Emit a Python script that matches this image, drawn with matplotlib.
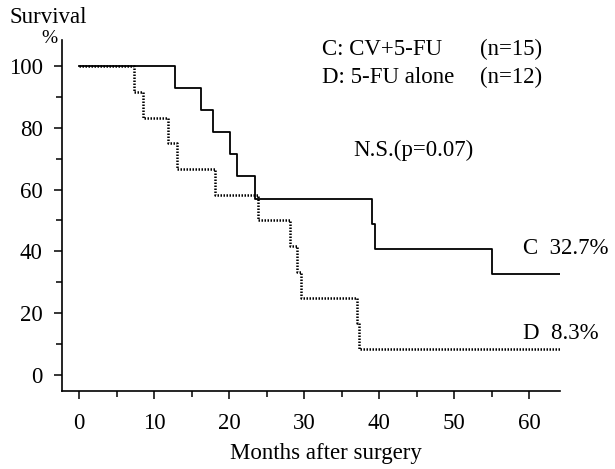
import matplotlib
matplotlib.use('Agg')
import matplotlib.pyplot as plt
from matplotlib.ticker import MultipleLocator

# Kaplan-Meier steps (months, survival %)
c_months = [0, 12.8, 16.3, 17.9, 20.1, 21.0, 23.5, 39.0, 39.4, 55.0, 64.1]
c_survival = [100, 92.9, 85.7, 78.6, 71.4, 64.3, 57.1, 49.0, 40.8, 32.7, 32.7]

d_months = [0, 7.3, 8.5, 11.9, 13.0, 18.1, 23.8, 28.1, 29.1, 29.6, 37.0, 37.3, 64.1]
d_survival = [100, 91.7, 83.3, 75.0, 66.7, 58.3, 50.0, 41.7, 33.3, 25.0, 16.7, 8.3, 8.3]

legend_rows = ['C: CV+5-FU', 'D: 5-FU alone']
legend_counts = ['(n=15)', '(n=12)']
end_labels = ['C  32.7%', 'D  8.3%']
p_text = 'N.S.(p=0.07)'


def main():
    plt.rcParams['font.family'] = ['Liberation Serif', 'DejaVu Serif']
    plt.rcParams['font.size'] = 16.5

    fig = plt.figure(figsize=(6.15, 4.69), dpi=100)
    ax = fig.add_axes([0.1008, 0.1663, 0.8098, 0.7484])

    ax.step(c_months, c_survival, where='post', color='black', linewidth=1.3)
    ax.step(d_months, d_survival, where='post', color='black', linewidth=1.8,
            linestyle=(0, (0.6, 0.6)))

    ax.set_xlim(-2.27, 64.1)
    ax.set_ylim(-5.2, 108.4)
    ax.xaxis.set_minor_locator(MultipleLocator(5))
    ax.yaxis.set_minor_locator(MultipleLocator(10))
    ax.set_xticks(range(0, 61, 10))
    ax.set_yticks(range(0, 101, 20))

    for side in ['top', 'right']:
        ax.spines[side].set_visible(False)
    for side in ['left', 'bottom']:
        ax.spines[side].set_linewidth(1.2)
    ax.tick_params(which='major', direction='out', length=6, width=1.1)
    ax.tick_params(axis='x', which='major', pad=10)
    ax.tick_params(axis='y', which='major', pad=8)
    ax.tick_params(which='minor', direction='out', length=4, width=1.1)

    ax.set_xlabel('Months after surgery', labelpad=6, x=0.53)

    fig.text(0.016, 0.962, 'Survival', ha='left', va='center')
    fig.text(0.08, 0.917, '%', ha='center', va='center', fontsize=14)

    ax.text(32.4, 105.3, legend_rows[0], ha='left', va='center')
    ax.text(32.4, 96.4, legend_rows[1], ha='left', va='center')
    ax.text(53.5, 105.3, legend_counts[0], ha='left', va='center')
    ax.text(53.5, 96.4, legend_counts[1], ha='left', va='center')
    ax.text(36.6, 72.8, p_text, ha='left', va='center')

    ax.text(59.2, 41.0, end_labels[0], ha='left', va='center')
    ax.text(59.1, 13.4, end_labels[1], ha='left', va='center')

    fig.savefig('out.png', dpi=100)


if __name__ == '__main__':
    main()
